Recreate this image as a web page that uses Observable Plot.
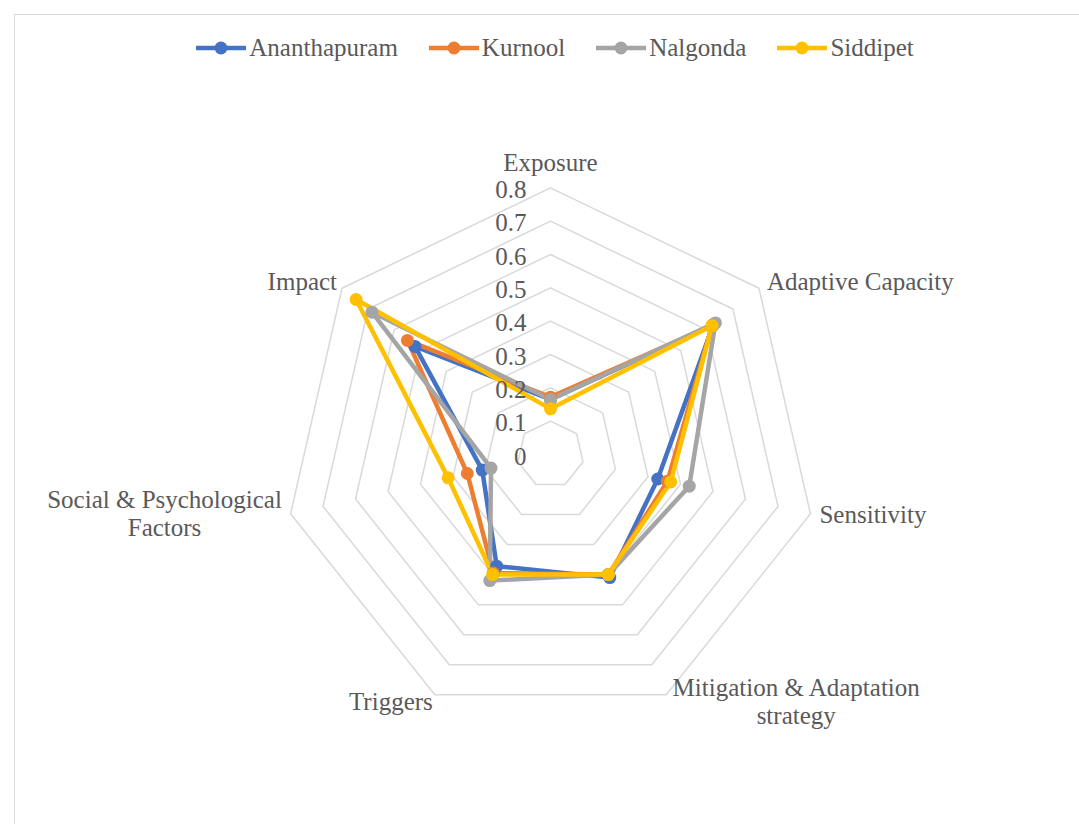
<!DOCTYPE html>
<html>
<head>
<meta charset="utf-8">
<script src="https://cdn.jsdelivr.net/npm/d3@7"></script>
<script src="https://cdn.jsdelivr.net/npm/@observablehq/plot@0.6"></script>
<style>
  body { margin: 0; background: #fff; }
  #wrap { position: relative; width: 1079px; height: 824px; overflow: hidden; font-family: "Liberation Serif", Tinos, "Times New Roman", "DejaVu Serif", serif; }
  #frame { position: absolute; left: 14px; top: 14px; width: 1080px; height: 830px; border: 1px solid #d9d9d9; box-sizing: border-box; }
  #legend { position: absolute; top: 31px; left: 14px; width: 1082px; display: flex; justify-content: center; gap: 31px; color: #595959; font-size: 25px; line-height: 34px; }
  .item { display: flex; align-items: center; }
  .item svg { margin-right: 3px; }
  #chart { position: absolute; left: 0; top: 0; }
  #chart svg text { font-family: "Liberation Serif", Tinos, "Times New Roman", "DejaVu Serif", serif; }
</style>
</head>
<body>
<div id="wrap">
  <div id="frame"></div>
  <div id="chart"></div>
  <div id="legend"></div>
</div>
<script>
// ---- data ----
const axes = ["Exposure", "Adaptive Capacity", "Sensitivity", "Mitigation & Adaptation strategy", "Triggers", "Social & Psychological Factors", "Impact"];
const axisLabels = ["Exposure", "Adaptive Capacity", "Sensitivity", "Mitigation & Adaptation\nstrategy", "Triggers", "Social & Psychological\nFactors", "Impact"];
const seriesNames = ["Ananthapuram", "Kurnool", "Nalgonda", "Siddipet"];
const colors = ["#4472C4", "#ED7D31", "#A5A5A5", "#FFC000"];
const ananthapuram = [0.165, 0.625, 0.330, 0.410, 0.372, 0.210, 0.520];
const kurnool      = [0.172, 0.620, 0.360, 0.400, 0.395, 0.256, 0.549];
const nalgonda     = [0.165, 0.633, 0.427, 0.400, 0.420, 0.183, 0.685];
const siddipet     = [0.137, 0.620, 0.370, 0.400, 0.400, 0.315, 0.746];
const tickValues = [0, 0.1, 0.2, 0.3, 0.4, 0.5, 0.6, 0.7, 0.8];
const tickLabels = ["0", "0.1", "0.2", "0.3", "0.4", "0.5", "0.6", "0.7", "0.8"];
const maxValue = 0.8;

// ---- geometry helpers ----
const n = axes.length;
const ang = i => i * 2 * Math.PI / n;
const px = (i, r) => r * Math.sin(ang(i));
const py = (i, r) => r * Math.cos(ang(i));

const seriesValues = [ananthapuram, kurnool, nalgonda, siddipet];

// grid rings
const grid = [];
tickValues.filter(t => t > 0).forEach(t => {
  for (let i = 0; i <= n; i++) grid.push({level: t, x: px(i % n, t), y: py(i % n, t)});
});

// series points
const lines = [];
const dots = [];
seriesNames.forEach((s, si) => {
  seriesValues[si].forEach((v, i) => {
    dots.push({series: s, x: px(i, v), y: py(i, v)});
  });
  for (let i = 0; i <= n; i++) {
    const v = seriesValues[si][i % n];
    lines.push({series: s, x: px(i % n, v), y: py(i % n, v)});
  }
});

// axis label layout (styles)
const labelStyle = [
  {anchor: "middle", dx: 0, dy: -26},
  {anchor: "start", dx: 8, dy: -7},
  {anchor: "start", dx: 9, dy: 0},
  {anchor: "middle", dx: 130, dy: 6},
  {anchor: "end", dx: -2, dy: 6},
  {anchor: "middle", dx: -126, dy: -1},
  {anchor: "end", dx: -5, dy: -7}
];
const labels = axisLabels.map((t, i) => ({text: t, x: px(i, maxValue), y: py(i, maxValue), ...labelStyle[i]}));
const ticks = tickValues.map((t, i) => ({text: tickLabels[i], x: 0, y: t}));

// ---- scales: 1 unit = 333.3 px, center at (550, 454) ----
const unit = 333.3;
const W = 1079, H = 824, cx = 550, cy = 454;

const textFont = "Liberation Serif, Tinos, Times New Roman, DejaVu Serif, serif";
const textFill = "#595959";
const fs = 25;

const labelMarks = labels.map(d => Plot.text([d], {
  x: "x", y: "y", text: "text", textAnchor: d.anchor, lineAnchor: "middle", lineHeight: 1.15,
  dx: d.dx, dy: d.dy, fontFamily: textFont, fontSize: fs, fill: textFill
}));

const chart = Plot.plot({
  width: W,
  height: H,
  margin: 0,
  x: {domain: [-cx / unit, (W - cx) / unit], range: [0, W], axis: null},
  y: {domain: [-(H - cy) / unit, cy / unit], range: [H, 0], axis: null},
  color: {domain: seriesNames, range: colors},
  style: {background: "transparent"},
  marks: [
    Plot.line(grid, {x: "x", y: "y", z: "level", stroke: "#d9d9d9", strokeWidth: 1.5}),
    Plot.line(lines, {x: "x", y: "y", z: "series", stroke: "series", strokeWidth: 4.5, strokeLinejoin: "round"}),
    Plot.dot(dots, {x: "x", y: "y", fill: "series", r: 6.5}),
    Plot.text(ticks, {x: "x", y: "y", text: "text", textAnchor: "end", dx: -24, dy: 2, fontFamily: textFont, fontSize: fs, fill: textFill}),
    ...labelMarks
  ]
});
document.getElementById("chart").appendChild(chart);

// legend
const leg = document.getElementById("legend");
seriesNames.forEach((s, i) => {
  const item = document.createElement("div");
  item.className = "item";
  item.innerHTML = `<svg width="50" height="14"><line x1="0" y1="7" x2="50" y2="7" stroke="${colors[i]}" stroke-width="4.5"/><circle cx="25" cy="7" r="6.5" fill="${colors[i]}"/></svg><span>${s}</span>`;
  leg.appendChild(item);
});
</script>
</body>
</html>
